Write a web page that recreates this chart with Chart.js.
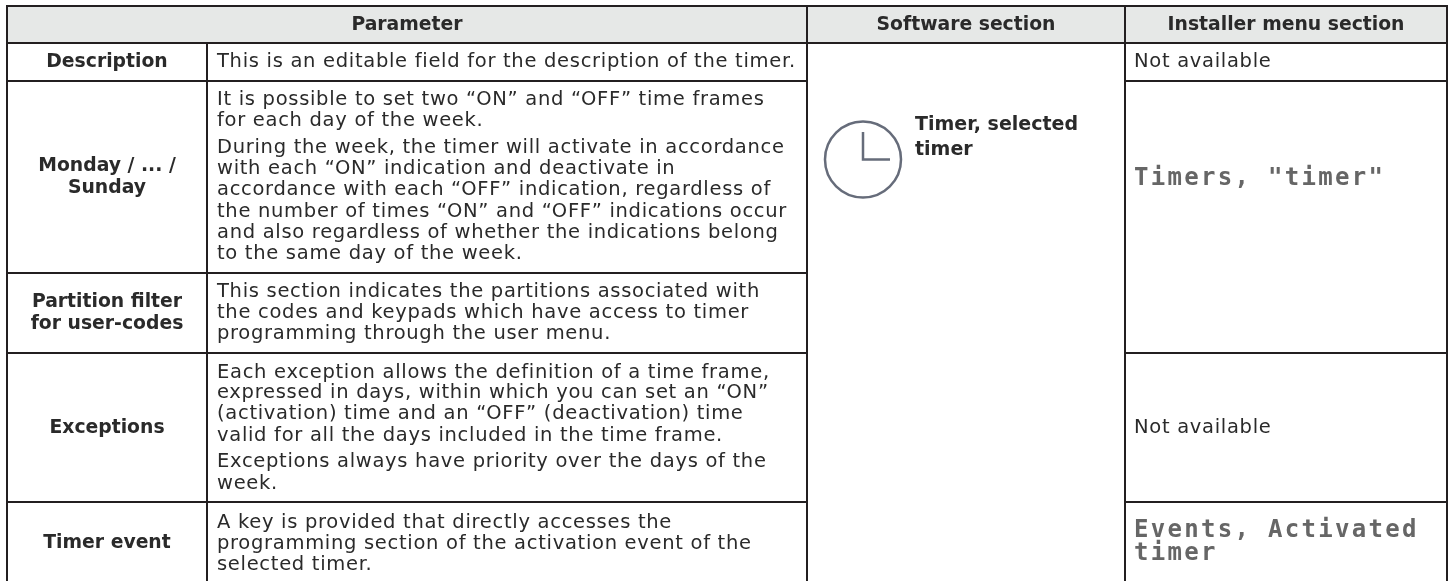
<!DOCTYPE html>
<html lang="en">
<head>
  <meta charset="UTF-8">
  <title>Timer parameters</title>
  <script src="https://cdn.jsdelivr.net/npm/chart.js"></script>
  <style>
    body { margin: 0; background: #fff; }
    canvas { display: block; }
  </style>
</head>
<body>
<canvas id="tableChart" width="1448" height="581" role="img" aria-label="Table of timer parameters"></canvas>
<script>
  // table content
  const headers = ['Parameter', 'Software section', 'Installer menu section'];
  const parameters = [['Description'], ['Monday / ... /', 'Sunday'], ['Partition filter', 'for user-codes'], ['Exceptions'], ['Timer event']];
  const descriptions = [
    ['This is an editable field for the description of the timer.'],
    ['It is possible to set two “ON” and “OFF” time frames', 'for each day of the week.',
     'During the week, the timer will activate in accordance', 'with each “ON” indication and deactivate in',
     'accordance with each “OFF” indication, regardless of', 'the number of times “ON” and “OFF” indications occur',
     'and also regardless of whether the indications belong', 'to the same day of the week.'],
    ['This section indicates the partitions associated with', 'the codes and keypads which have access to timer', 'programming through the user menu.'],
    ['Each exception allows the definition of a time frame,', 'expressed in days, within which you can set an “ON”',
     '(activation) time and an “OFF” (deactivation) time', 'valid for all the days included in the time frame.',
     'Exceptions always have priority over the days of the', 'week.'],
    ['A key is provided that directly accesses the', 'programming section of the activation event of the', 'selected timer.']
  ];
  const softwareLines = ['Timer, selected', 'timer'];
  const notAvailable = 'Not available';
  const installerLines = ['Timers, "timer"', 'Events, Activated', 'timer'];

  // grid and text layout, in canvas units
  const colEdges = [7, 207, 807, 1125, 1447];
  const rowEdges = [6, 43, 81, 273, 353, 502, 581];
  const descY = [
    [62],
    [100, 121, 148, 169, 190, 212, 233, 254],
    [292, 313, 334],
    [373, 393, 414, 436, 462, 484],
    [523, 544, 565]
  ];
  const paramY = [[62], [166, 188], [302, 324], [428], [543]];

  const c = colEdges, r = rowEdges;
  const hline = (y, a, b) => [{x: c[a], y: y}, {x: c[b], y: y}];
  const vline = (x, y0, y1) => [{x: x, y: y0}, {x: x, y: y1}];

  const gridSegments = [
    hline(r[0], 0, 4), hline(r[1], 0, 4),
    hline(r[2], 0, 2), hline(r[2], 3, 4),
    hline(r[3], 0, 2),
    hline(r[4], 0, 2), hline(r[4], 3, 4),
    hline(r[5], 0, 2), hline(r[5], 3, 4),
    vline(c[0], r[0], r[6]), vline(c[4], r[0], r[6]),
    vline(c[1], r[1], r[6]), vline(c[2], r[0], r[6]), vline(c[3], r[0], r[6])
  ];

  const textPlugin = {
    id: 'tableText',
    beforeDatasetsDraw(chart) {
      const { ctx, scales: { x, y } } = chart;
      ctx.fillStyle = '#e6e8e7';
      ctx.fillRect(x.getPixelForValue(c[0]), y.getPixelForValue(r[0]),
        x.getPixelForValue(c[4]) - x.getPixelForValue(c[0]), y.getPixelForValue(r[1]) - y.getPixelForValue(r[0]));
    },
    afterDatasetsDraw(chart) {
      const { ctx, scales: { x, y } } = chart;
      const put = (s, px, py, font, align, color, spacing) => {
        ctx.font = font;
        ctx.textAlign = align;
        ctx.fillStyle = color;
        ctx.letterSpacing = spacing || '0px';
        ctx.fillText(s, x.getPixelForValue(px), y.getPixelForValue(py));
      };
      ctx.save();
      ctx.textBaseline = 'middle';
      const ink = '#2a2a2a';
      const bold = 'bold 18.8px "DejaVu Sans"';
      const body = '19.5px "DejaVu Sans"';

      put(headers[0], (c[0] + c[2]) / 2, 25, bold, 'center', ink);
      put(headers[1], (c[2] + c[3]) / 2, 25, bold, 'center', ink);
      put(headers[2], (c[3] + c[4]) / 2, 25, bold, 'center', ink);

      parameters.forEach((lines, i) => lines.forEach((s, j) => {
        put(s, (c[0] + c[1]) / 2, paramY[i][j], bold, 'center', ink);
      }));
      descriptions.forEach((lines, i) => lines.forEach((s, j) => {
        put(s, 217, descY[i][j], body, 'left', ink, '0.7px');
      }));

      put(softwareLines[0], 915, 125, 'bold 19px "DejaVu Sans"', 'left', ink);
      put(softwareLines[1], 915, 150, 'bold 19px "DejaVu Sans"', 'left', ink);

      put(notAvailable, 1134, 62, body, 'left', ink, '0.7px');
      put(notAvailable, 1134, 428, body, 'left', ink, '0.7px');

      const mono = 'bold 24px "DejaVu Sans Mono"';
      put(installerLines[0], 1134, 179, mono, 'left', '#666', '2.3px');
      put(installerLines[1], 1134, 531, mono, 'left', '#666', '2.3px');
      put(installerLines[2], 1134, 554, mono, 'left', '#666', '2.3px');
      ctx.restore();
    }
  };

  const gridDatasets = gridSegments.map(seg => ({
    data: seg, showLine: true, pointRadius: 0, borderColor: '#231f20', borderWidth: 2, borderCapStyle: 'square'
  }));

  new Chart(document.getElementById('tableChart'), {
    type: 'scatter',
    data: {
      datasets: gridDatasets.concat([
        { data: [{x: 863, y: 159.5}], pointRadius: 38, pointBorderWidth: 2.5, pointBackgroundColor: 'transparent', pointBorderColor: '#666c7a' },
        { data: [{x: 863, y: 132}, {x: 863, y: 159.5}, {x: 890, y: 159.5}], showLine: true, pointRadius: 0, borderColor: '#666c7a', borderWidth: 2.5 }
      ])
    },
    options: {
      responsive: false,
      animation: false,
      events: [],
      layout: { padding: 0, autoPadding: false },
      plugins: { legend: { display: false }, tooltip: { enabled: false } },
      scales: {
        x: { type: 'linear', display: false, min: 0, max: 1448 },
        y: { type: 'linear', display: false, min: 0, max: 581, reverse: true }
      }
    },
    plugins: [textPlugin]
  });
</script>
</body>
</html>
